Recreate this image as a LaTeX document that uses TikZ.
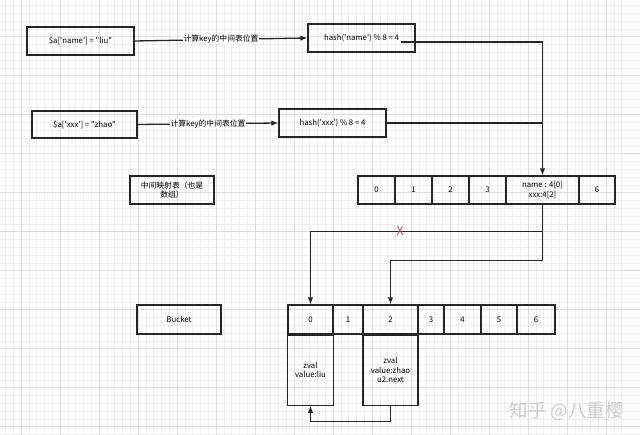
\documentclass[tikz,border=0pt]{standalone}
\usepackage{fontspec}
\newfontfamily\cjk{Noto Sans CJK SC}
\usetikzlibrary{arrows.meta,calc}
\definecolor{gridminor}{RGB}{238,238,238}
\definecolor{gridmajor}{RGB}{222,222,222}
\definecolor{xred}{RGB}{200,60,80}
\begin{document}
\begin{tikzpicture}[x=1pt,y=-1pt,
  every node/.style={font=\cjk\fontsize{7.8}{9.3}\selectfont},
  box/.style={draw=black!85,line width=1.2pt,inner sep=0pt,align=center,rectangle},
  conn/.style={draw=black!85,line width=1.3pt},
  arr/.style={conn,-{Latex[length=7pt,width=5.5pt]}},
  lbl/.style={fill=white,inner sep=0.5pt}]
\fill[white] (0,0) rectangle (640,435);
\useasboundingbox (0,0) rectangle (640,435);
% grid
\foreach \i in {0,...,82} {\draw[gridminor,line width=0.4pt] ({21-39+7.8*\i},0) -- ({21-39+7.8*\i},435);}
\foreach \i in {0,...,60} {\draw[gridminor,line width=0.4pt] (0,{36.7-39+7.8*\i}) -- (640,{36.7-39+7.8*\i});}
\foreach \i in {0,...,16} {\draw[gridmajor,line width=0.6pt] ({21+39*\i},0) -- ({21+39*\i},435);}
\foreach \i in {0,...,11} {\draw[gridmajor,line width=0.6pt] (0,{36.7+39*\i}) -- (640,{36.7+39*\i});}
% top boxes
\node[box,minimum width=107pt,minimum height=28pt] (k1) at (80.5,41) {\$a['name'] = "liu"};
\node[box,minimum width=107pt,minimum height=28pt] (h1) at (361.5,38) {hash('name') \% 8 = 4};
\node[box,minimum width=105pt,minimum height=27pt] (k2) at (84.5,124.5) {\$a['xxx'] = "zhao"};
\node[box,minimum width=107pt,minimum height=28pt] (h2) at (332.5,123) {hash('xxx') \% 8 = 4};
\draw[arr] (k1.east) -- node[lbl] {计算key的中间表位置} (h1.west);
\draw[arr] (k2.east) -- node[lbl] {计算key的中间表位置} (h2.west);
% middle table
\node[box,minimum width=84pt,minimum height=28pt,text width=80pt] (mt) at (172,190) {中间映射表（也是\\数组）};
\node[box,minimum width=37pt,minimum height=28pt] (m0) at (376.5,190) {0};
\node[box,minimum width=37pt,minimum height=28pt] (m1) at (413.5,190) {1};
\node[box,minimum width=37pt,minimum height=28pt] (m2) at (450.5,190) {2};
\node[box,minimum width=37pt,minimum height=28pt] (m3) at (487.5,190) {3};
\node[box,minimum width=73pt,minimum height=28pt] (m4) at (542.5,190) {name : 4[0]\\xxx:4[2]};
\node[box,minimum width=36pt,minimum height=28pt] (m6) at (597,190) {6};
\coordinate (h1o) at ($(h1.east)+(-15,4)$);
\draw[arr] (h1o) -| (m4.north);
\coordinate (j2) at (m4.north |- h2.east);
\draw[conn] (h2.east) -- (j2);
% bucket
\node[box,minimum width=84pt,minimum height=29pt] (bk) at (179,319.5) {Bucket};
\node[box,minimum width=45pt,minimum height=29pt] (b0) at (310.5,319.5) {0};
\node[box,minimum width=30pt,minimum height=29pt] (b1) at (348,319.5) {1};
\node[box,minimum width=55pt,minimum height=29pt] (b2) at (390.5,319.5) {2};
\node[box,minimum width=26pt,minimum height=29pt] (b3) at (431,319.5) {3};
\node[box,minimum width=37pt,minimum height=29pt] (b4) at (462.5,319.5) {4};
\node[box,minimum width=36pt,minimum height=29pt] (b5) at (499,319.5) {5};
\node[box,minimum width=38pt,minimum height=29pt] (b6) at (536,319.5) {6};
\node[box,minimum width=46pt,minimum height=70pt,anchor=north] (z1) at (b0.south) {zval\\value:liu};
\node[box,minimum width=55pt,minimum height=70pt,anchor=north] (z2) at (b2.south) {zval\\value:zhao\\u2.next};
% connectors from middle table to bucket
\coordinate (c1) at ($(m4.south)+(0,27)$);
\coordinate (c2) at ($(m4.south)+(0,56)$);
\draw[arr] (m4.south) -- (c1) -| (b0.north);
\node[text=xred,font=\cjk\fontsize{12}{12}\selectfont,inner sep=0pt] (xm) at (c1 -| 400,0) {X};
\draw[arr] (c1) -- (c2) -| (b2.north);
\coordinate (c3) at ($(z2.south)+(0,16)$);
\draw[arr] (z2.south) -- (c3) -| (z1.south);
% watermark
\node[text=black!20,font=\cjk\fontsize{18.5}{18.5}\selectfont,anchor=west] (wm) at (506,411) {知乎 @八重樱};
\end{tikzpicture}
\end{document}
